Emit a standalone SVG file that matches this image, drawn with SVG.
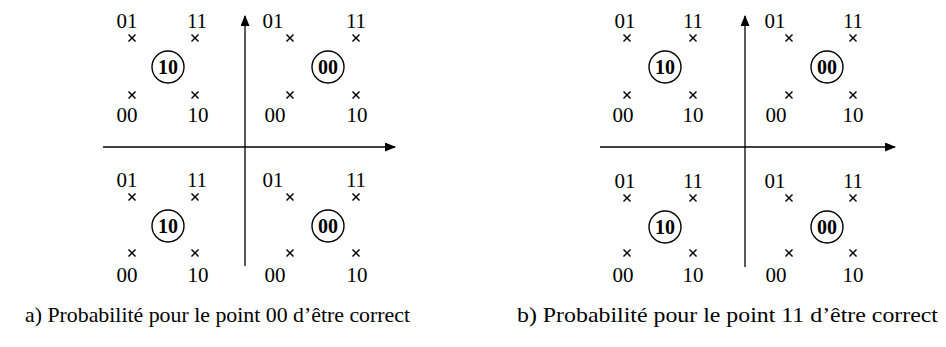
<svg xmlns="http://www.w3.org/2000/svg" xmlns:xlink="http://www.w3.org/1999/xlink" width="946" height="347" viewBox="0 0 946 347">
<style>
  .lbl { font-family: "Liberation Serif", "Times New Roman", serif; font-size: 21px; text-anchor: middle; fill: #000; }
  .dec { font-family: "Liberation Serif", "Times New Roman", serif; font-size: 20px; font-weight: bold; text-anchor: middle; fill: #000; }
  .cap { font-family: "Liberation Serif", "Times New Roman", serif; font-size: 21px; fill: #000; }
  .ring { fill: none; stroke: #000; stroke-width: 1.4; }
  .axis { stroke: #000; stroke-width: 1.3; fill: none; }
  .x { stroke: #000; stroke-width: 1.4; }
</style>
<defs>
  <g id="cross"><line class="x" x1="-3.5" y1="-3.5" x2="3.5" y2="3.5"/><line class="x" x1="-3.5" y1="3.5" x2="3.5" y2="-3.5"/></g>
  <marker id="arr" markerWidth="11" markerHeight="9" refX="10" refY="4.5" orient="auto" markerUnits="userSpaceOnUse">
    <path d="M0,0 L11,4.5 L0,9 Z" fill="#000"/>
  </marker>
</defs>
<rect width="946" height="347" fill="#fff"/>

<g id="connectors">
  <line class="axis" x1="245" y1="266" x2="245" y2="16" marker-end="url(#arr)"/>
  <line class="axis" x1="103" y1="147" x2="395" y2="147" marker-end="url(#arr)"/>
  <line class="axis" x1="745" y1="267" x2="745" y2="16" marker-end="url(#arr)"/>
  <line class="axis" x1="600" y1="147" x2="895" y2="147" marker-end="url(#arr)"/>
</g>

<!-- Diagram a -->
<g id="a-q-ul">
  <g id="a-ul-01"><text class="lbl" x="127" y="28">01</text><use xlink:href="#cross" x="132" y="38"/></g>
  <g id="a-ul-11"><text class="lbl" x="197" y="28">11</text><use xlink:href="#cross" x="195" y="38"/></g>
  <g id="a-ul-dec"><circle class="ring" cx="168" cy="67" r="16"/><text class="dec" x="168" y="74">10</text></g>
  <g id="a-ul-00"><use xlink:href="#cross" x="132" y="95"/><text class="lbl" x="127" y="122">00</text></g>
  <g id="a-ul-10"><use xlink:href="#cross" x="195" y="95"/><text class="lbl" x="198" y="122">10</text></g>
</g>
<g id="a-q-ur">
  <g id="a-ur-01"><text class="lbl" x="273" y="28">01</text><use xlink:href="#cross" x="290" y="38"/></g>
  <g id="a-ur-11"><text class="lbl" x="356" y="28">11</text><use xlink:href="#cross" x="356" y="38"/></g>
  <g id="a-ur-dec"><circle class="ring" cx="328" cy="67" r="16"/><text class="dec" x="328" y="74">00</text></g>
  <g id="a-ur-00"><use xlink:href="#cross" x="290" y="95"/><text class="lbl" x="275" y="122">00</text></g>
  <g id="a-ur-10"><use xlink:href="#cross" x="356" y="95"/><text class="lbl" x="357" y="122">10</text></g>
</g>
<g id="a-q-ll">
  <g id="a-ll-01"><text class="lbl" x="127" y="187">01</text><use xlink:href="#cross" x="132" y="197"/></g>
  <g id="a-ll-11"><text class="lbl" x="197" y="187">11</text><use xlink:href="#cross" x="195" y="197"/></g>
  <g id="a-ll-dec"><circle class="ring" cx="168" cy="226" r="16"/><text class="dec" x="168" y="233">10</text></g>
  <g id="a-ll-00"><use xlink:href="#cross" x="132" y="253"/><text class="lbl" x="127" y="282">00</text></g>
  <g id="a-ll-10"><use xlink:href="#cross" x="195" y="253"/><text class="lbl" x="198" y="282">10</text></g>
</g>
<g id="a-q-lr">
  <g id="a-lr-01"><text class="lbl" x="273" y="187">01</text><use xlink:href="#cross" x="290" y="197"/></g>
  <g id="a-lr-11"><text class="lbl" x="356" y="187">11</text><use xlink:href="#cross" x="356" y="197"/></g>
  <g id="a-lr-dec"><circle class="ring" cx="328" cy="226" r="16"/><text class="dec" x="328" y="233">00</text></g>
  <g id="a-lr-00"><use xlink:href="#cross" x="290" y="253"/><text class="lbl" x="275" y="282">00</text></g>
  <g id="a-lr-10"><use xlink:href="#cross" x="356" y="253"/><text class="lbl" x="357" y="282">10</text></g>
</g>

<!-- Diagram b -->
<g id="b-q-ul">
  <g id="b-ul-01"><text class="lbl" x="625" y="28">01</text><use xlink:href="#cross" x="627" y="38"/></g>
  <g id="b-ul-11"><text class="lbl" x="693" y="28">11</text><use xlink:href="#cross" x="693" y="38"/></g>
  <g id="b-ul-dec"><circle class="ring" cx="665" cy="67" r="16"/><text class="dec" x="665" y="74">10</text></g>
  <g id="b-ul-00"><use xlink:href="#cross" x="627" y="95"/><text class="lbl" x="623" y="122">00</text></g>
  <g id="b-ul-10"><use xlink:href="#cross" x="693" y="95"/><text class="lbl" x="693" y="122">10</text></g>
</g>
<g id="b-q-ur">
  <g id="b-ur-01"><text class="lbl" x="775" y="28">01</text><use xlink:href="#cross" x="789" y="38"/></g>
  <g id="b-ur-11"><text class="lbl" x="853" y="28">11</text><use xlink:href="#cross" x="853" y="38"/></g>
  <g id="b-ur-dec"><circle class="ring" cx="827" cy="67" r="16"/><text class="dec" x="827" y="74">00</text></g>
  <g id="b-ur-00"><use xlink:href="#cross" x="789" y="95"/><text class="lbl" x="776" y="122">00</text></g>
  <g id="b-ur-10"><use xlink:href="#cross" x="853" y="95"/><text class="lbl" x="853" y="122">10</text></g>
</g>
<g id="b-q-ll">
  <g id="b-ll-01"><text class="lbl" x="625" y="188">01</text><use xlink:href="#cross" x="627" y="198"/></g>
  <g id="b-ll-11"><text class="lbl" x="693" y="188">11</text><use xlink:href="#cross" x="693" y="198"/></g>
  <g id="b-ll-dec"><circle class="ring" cx="665" cy="227" r="16"/><text class="dec" x="665" y="234">10</text></g>
  <g id="b-ll-00"><use xlink:href="#cross" x="627" y="253"/><text class="lbl" x="623" y="282">00</text></g>
  <g id="b-ll-10"><use xlink:href="#cross" x="693" y="253"/><text class="lbl" x="693" y="282">10</text></g>
</g>
<g id="b-q-lr">
  <g id="b-lr-01"><text class="lbl" x="775" y="188">01</text><use xlink:href="#cross" x="789" y="198"/></g>
  <g id="b-lr-11"><text class="lbl" x="853" y="188">11</text><use xlink:href="#cross" x="853" y="198"/></g>
  <g id="b-lr-dec"><circle class="ring" cx="827" cy="227" r="16"/><text class="dec" x="827" y="234">00</text></g>
  <g id="b-lr-00"><use xlink:href="#cross" x="789" y="253"/><text class="lbl" x="776" y="282">00</text></g>
  <g id="b-lr-10"><use xlink:href="#cross" x="853" y="253"/><text class="lbl" x="853" y="282">10</text></g>
</g>

<g id="captions">
  <text class="cap" x="25" y="322" textLength="385" lengthAdjust="spacingAndGlyphs">a) Probabilité pour le point 00 d’être correct</text>
  <text class="cap" x="517" y="322" textLength="421" lengthAdjust="spacingAndGlyphs" style="font-size:22px">b) Probabilité pour le point 11 d’être correct</text>
</g>
</svg>
